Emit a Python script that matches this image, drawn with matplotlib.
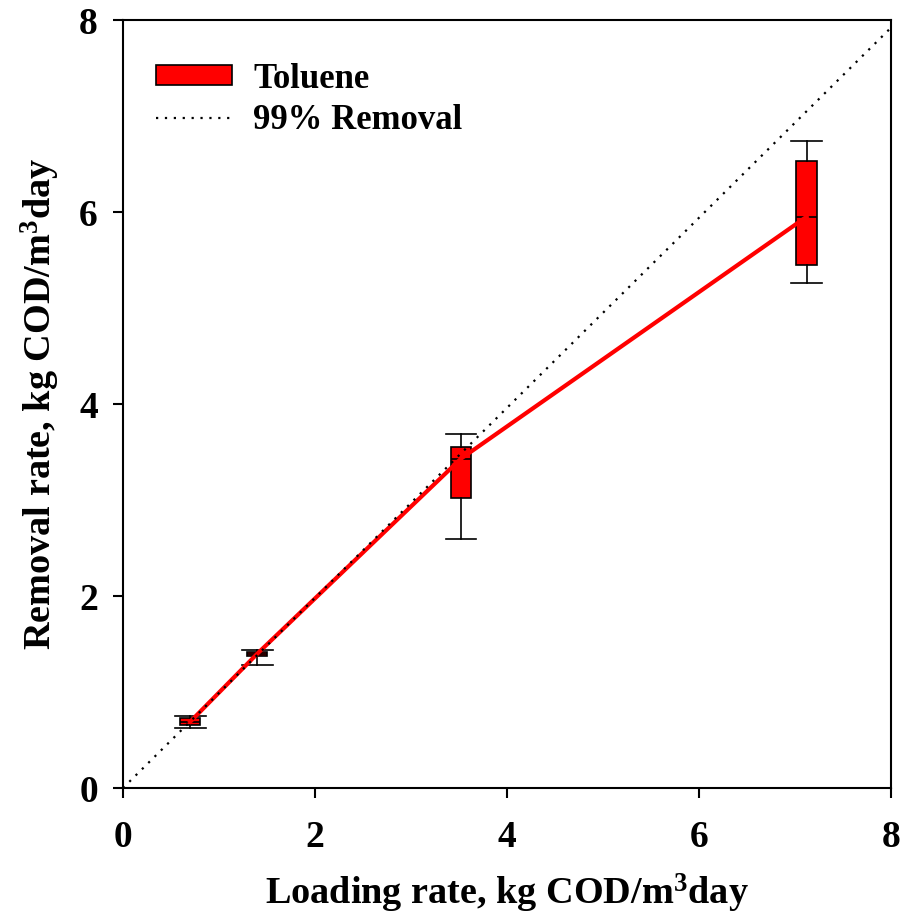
import matplotlib
matplotlib.use("Agg")
import matplotlib.pyplot as plt
from matplotlib.patches import Patch
from matplotlib.lines import Line2D

plt.rcParams['font.family'] = ['Liberation Serif', 'DejaVu Serif']
plt.rcParams['font.weight'] = 'bold'
plt.rcParams['mathtext.fontset'] = 'custom'
plt.rcParams['mathtext.rm'] = 'Liberation Serif:bold'
plt.rcParams['mathtext.it'] = 'Liberation Serif:bold'
plt.rcParams['mathtext.bf'] = 'Liberation Serif:bold'

# Data: loading rate positions and box statistics of removal rate (Toluene)
loading = [0.70, 1.40, 3.52, 7.12]
whislo = [0.62, 1.28, 2.59, 5.26]
q1 = [0.66, 1.37, 3.02, 5.45]
med = [0.69, 1.40, 3.43, 5.95]
q3 = [0.73, 1.42, 3.555, 6.535]
whishi = [0.75, 1.44, 3.69, 6.74]
removal_pct = 0.99
ref_x = [0, 8]
ticks = [0, 2, 4, 6, 8]

fig = plt.figure(figsize=(9.09, 9.18), dpi=100)
ax = fig.add_axes([123/909, 1-788/918, 768/909, 768/918])

stats = []
for i in range(len(loading)):
    stats.append(dict(med=med[i], q1=q1[i], q3=q3[i], whislo=whislo[i], whishi=whishi[i], fliers=[]))
ax.bxp(stats, positions=loading, widths=0.21, capwidths=0.32, patch_artist=True,
       showfliers=False, manage_ticks=False,
       boxprops=dict(facecolor='#ff0000', edgecolor='black', linewidth=1.2),
       medianprops=dict(color='black', linewidth=1.2),
       whiskerprops=dict(color='black', linewidth=1.2),
       capprops=dict(color='black', linewidth=1.2), zorder=2)

ax.plot(loading, med, color='#ff0000', linewidth=3, zorder=3)
ax.plot(ref_x, [v * removal_pct for v in ref_x], color='black', linestyle=(0, (1, 3)),
        linewidth=1.6, zorder=4)

ax.set_xlim(0, 8)
ax.set_ylim(0, 8)
ax.set_xticks(ticks)
ax.set_yticks(ticks)
ax.set_xticklabels([str(t) for t in ticks], fontsize=27, fontweight='bold')
ax.set_yticklabels([str(t) for t in ticks], fontsize=27, fontweight='bold')
ax.tick_params(direction='out', length=7, width=1.5, top=False, right=False)
ax.tick_params(axis='x', pad=16)
ax.tick_params(axis='y', pad=11)
for s in ax.spines.values():
    s.set_linewidth(1.5)

ax.set_xlabel(r'Loading rate, kg COD/m$^3$day', fontsize=27.5, fontweight='bold', labelpad=12)
ax.set_ylabel(r'Removal rate, kg COD/m$^3$day', fontsize=27.5, fontweight='bold', labelpad=12)

handles = [Patch(facecolor='#ff0000', edgecolor='black', linewidth=1.2),
           Line2D([0], [0], color='black', linestyle=(0, (1, 3)), linewidth=1.6)]
leg = ax.legend(handles, ['Toluene', '99% Removal'], loc='upper left',
                bbox_to_anchor=(0.02, 0.967), frameon=False,
                handlelength=2.2, handleheight=0.5, handletextpad=0.6, labelspacing=0.25, borderpad=0,
                prop=dict(family='Liberation Serif', weight='bold', size=25))

fig.savefig('out.png', dpi=100)
